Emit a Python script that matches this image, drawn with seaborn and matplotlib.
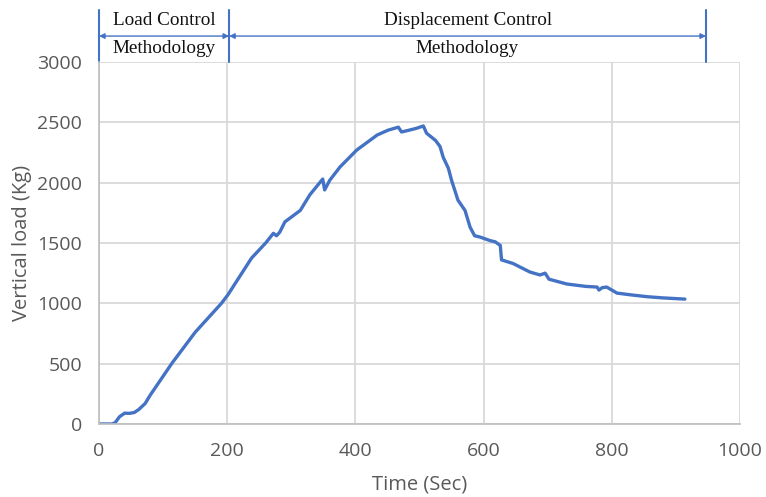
import matplotlib
matplotlib.use("Agg")
import matplotlib.pyplot as plt
import seaborn as sns
import pandas as pd

time_s = [0, 20, 25, 32, 40, 47, 55, 62, 72, 80, 114, 150, 191, 201, 238, 260, 272, 277,
          282, 290, 314, 329, 349, 352, 360, 376, 402, 434, 451, 467, 472, 480, 495, 506,
          511, 525, 532, 537, 545, 550, 560, 571, 579, 586, 594, 610, 618, 626, 628, 646,
          672, 688, 696, 702, 730, 760, 777, 780, 785, 792, 808, 830, 855, 880, 914]
load_kg = [0, 0, 10, 60, 90, 88, 95, 120, 170, 240, 505, 760, 1000, 1070, 1375, 1500, 1580, 1560,
           1590, 1675, 1770, 1900, 2030, 1940, 2020, 2130, 2270, 2395, 2435, 2460, 2420, 2430, 2450, 2470,
           2410, 2350, 2300, 2210, 2120, 2020, 1855, 1770, 1630, 1560, 1550, 1520, 1510, 1480, 1360, 1330,
           1260, 1235, 1250, 1200, 1160, 1140, 1135, 1110, 1130, 1135, 1085, 1070, 1055, 1045, 1035]

x_ticks = [0, 200, 400, 600, 800, 1000]
y_ticks = [0, 500, 1000, 1500, 2000, 2500, 3000]
phase_bounds = [0, 203, 947]
phase_top = ["Load Control", "Displacement Control"]
phase_bottom = ["Methodology", "Methodology"]

sns.set_theme(style="whitegrid")
plt.rcParams['font.family'] = ['Open Sans', 'DejaVu Sans']

fig = plt.figure(figsize=(7.66, 4.97), dpi=100)
ax = fig.add_axes([99/766, 73/497, 641/766, 362/497])

df = pd.DataFrame({"t": time_s, "v": load_kg})
sns.lineplot(data=df, x="t", y="v", ax=ax, color="#4472C4", linewidth=2.4,
             estimator=None, sort=False)

ax.set_xlim(0, 1000)
ax.set_ylim(0, 3000)
ax.set_xticks(x_ticks)
ax.set_yticks(y_ticks)
ax.grid(True, color="#d9d9d9", linewidth=1.3)
for s in ax.spines.values():
    s.set_visible(False)
ax.spines['left'].set_visible(True)
ax.spines['left'].set_color("#bfbfbf")
ax.spines['bottom'].set_visible(True)
ax.spines['bottom'].set_color("#bfbfbf")
ax.tick_params(axis='both', colors="#595959", labelsize=14, length=0)
ax.tick_params(axis='y', pad=12)
ax.tick_params(axis='x', pad=13)
ax.set_xlabel("Time (Sec)", fontsize=14.5, color="#595959")
ax.set_ylabel("Vertical load (Kg)", fontsize=14.5, color="#595959")
ax.xaxis.label.set_va("center")
ax.yaxis.label.set_va("center")
ax.xaxis.set_label_coords(0.5, -0.166)
ax.yaxis.set_label_coords(-0.12, 0.5)

# phase annotations above the axes
blue = "#4472C4"
y_low, y_high = 3000, 3431
y_arrow = 3215
for b in phase_bounds:
    ax.plot([b, b], [y_low, y_high], color=blue, linewidth=1.5, clip_on=False)
for i in range(len(phase_bounds) - 1):
    a, b = phase_bounds[i], phase_bounds[i + 1]
    ax.annotate("", xy=(a, y_arrow), xytext=(b, y_arrow),
                arrowprops=dict(arrowstyle="<|-|>", color=blue, lw=1.0,
                                mutation_scale=8, shrinkA=0, shrinkB=0),
                annotation_clip=False)
    mid = (a + b) / 2
    ax.text(mid, 3340, phase_top[i], ha="center", va="center", fontsize=13.8,
            family="Liberation Serif", color="#111111", clip_on=False)
    ax.text(mid, 3110, phase_bottom[i], ha="center", va="center", fontsize=13.8,
            family="Liberation Serif", color="#111111", clip_on=False)

fig.savefig("out.png", dpi=100)
